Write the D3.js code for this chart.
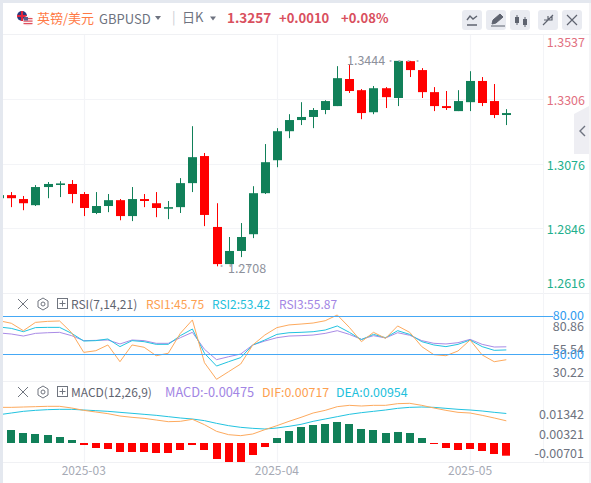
<!DOCTYPE html>
<html><head><meta charset="utf-8">
<script src="https://cdn.jsdelivr.net/npm/d3@7/dist/d3.min.js"></script>
<style>html,body{margin:0;padding:0;background:#fff;overflow:hidden}svg{display:block}text{font-family:"Noto Sans CJK SC","Open Sans",sans-serif}</style>
</head><body><div id="c"></div>
<script>
// index -1 is the candle clipped at the left edge
const startIndex = -1;
const opens  = [1.2952,1.2963,1.2949,1.2927,1.2992,1.3003,1.3003,1.2967,1.2899,1.2924,1.2945,1.2888,1.2949,1.2934,1.2917,1.2920,1.3006,1.3103,1.2849,1.2716,1.2763,1.2823,1.2970,1.3088,1.3192,1.3232,1.3243,1.3268,1.3282,1.3379,1.3339,1.3260,1.3346,1.3311,1.3443,1.3411,1.3332,1.3282,1.3264,1.3296,1.3372,1.3300,1.3250];
const highs  = [1.2963,1.2974,1.2960,1.2999,1.3010,1.3013,1.3017,1.2974,1.2974,1.2967,1.2949,1.2992,1.2967,1.2974,1.2942,1.3024,1.3210,1.3114,1.2934,1.2813,1.2863,1.2995,1.3146,1.3203,1.3253,1.3296,1.3275,1.3303,1.3425,1.3429,1.3343,1.3354,1.3350,1.3444,1.3444,1.3418,1.3350,1.3336,1.3339,1.3407,1.3386,1.3361,1.3271];
const lows   = [1.2949,1.2920,1.2909,1.2924,1.2952,1.2956,1.2934,1.2888,1.2895,1.2902,1.2873,1.2870,1.2920,1.2884,1.2877,1.2899,1.2974,1.2852,1.2708,1.2716,1.2741,1.2809,1.2967,1.3063,1.3167,1.3214,1.3203,1.3253,1.3282,1.3329,1.3235,1.3253,1.3275,1.3282,1.3386,1.3311,1.3264,1.3268,1.3264,1.3264,1.3282,1.3239,1.3214];
const closes = [1.2963,1.2952,1.2934,1.2992,1.3003,1.3005,1.2967,1.2917,1.2924,1.2945,1.2888,1.2949,1.2942,1.2917,1.2920,1.3006,1.3099,1.2892,1.2716,1.2763,1.2813,1.2970,1.3081,1.3192,1.3232,1.3243,1.3268,1.3300,1.3382,1.3336,1.3257,1.3346,1.3314,1.3444,1.3411,1.3332,1.3282,1.3275,1.3300,1.3372,1.3293,1.3250,1.3257];
const rsi1 = [76.3,74.3,68.5,75.0,75.8,76.1,66.9,51.5,52.8,57.3,44.2,57.3,55.5,48.9,50.8,66.4,76.9,43.4,30.4,36.4,42.4,57.3,65.1,70.9,73.0,73.7,74.5,76.3,80.8,71.1,59.9,67.2,62.5,72.2,67.2,56.0,49.7,48.9,52.6,61.2,49.5,44.2,45.75];
const rsi2 = [71.4,70.3,67.7,70.9,71.1,71.1,66.4,60.4,60.7,62.0,56.0,60.7,59.9,57.8,57.8,64.6,69.8,50.8,40.8,44.2,47.4,57.3,61.2,65.6,66.9,67.2,67.7,69.0,72.2,67.2,61.5,65.6,63.0,68.5,65.6,59.9,57.3,56.0,57.8,61.2,56.0,53.1,53.42];
const rsi3 = [66.7,65.9,64.3,66.4,66.9,67.2,64.6,60.7,60.9,61.2,58.1,61.2,60.7,58.6,58.6,63.0,67.2,53.9,45.8,48.1,50.2,57.3,60.4,63.0,64.3,64.6,65.1,66.4,68.5,65.6,61.7,64.6,62.8,66.9,64.9,60.7,58.6,58.1,59.1,61.7,57.8,55.7,55.87];
const macdBars = [null,.00486,.00374,.00337,.00299,.00224,.00112,-.00075,-.00187,-.00224,-.00337,-.00337,-.00337,-.00374,-.00374,-.00262,-.00075,-.00262,-.00599,-.00711,-.00711,-.00449,-.00150,.00187,.00449,.00599,.00673,.00711,.00786,.00711,.00524,.00486,.00374,.00412,.00374,.00187,-.00037,-.00187,-.00262,-.00224,-.00299,-.00412,-.00475];
const dif = [.01152,.01152,.01163,.01174,.01185,.01185,.01131,.01055,.01002,.00948,.00872,.00829,.00797,.00743,.00689,.00700,.00765,.00592,.00377,.00269,.00237,.00291,.00431,.00560,.00700,.00829,.00969,.01055,.01174,.01217,.01195,.01217,.01217,.01271,.01282,.01217,.01131,.01055,.00991,.00969,.00894,.00808,.00717];
const dea = [.00915,.00969,.01023,.01055,.01077,.01088,.01088,.01066,.01045,.01023,.00991,.00959,.00926,.00894,.00851,.00808,.00775,.00722,.00635,.00560,.00506,.00474,.00452,.00485,.00539,.00603,.00700,.00775,.00851,.00926,.00980,.01023,.01066,.01120,.01152,.01163,.01152,.01120,.01088,.01066,.01034,.00991,.00954];
const priceTicks = [1.3537,1.3306,1.3076,1.2846,1.2616];
const rsiLevels = [80,50];
const rsiLabels = ["80.86","55.54","30.22"];
const macdLabels = ["0.01342","0.00321","-0.00701"];
const monthTicks = [{i:6,label:"2025-03"},{i:22,label:"2025-04"},{i:38,label:"2025-05"}];

const W=591,H=483;
const svg=d3.select("#c").append("svg").attr("width",W).attr("height",H);
const GREEN="#118059",RED="#ff0000",GRID="#f3f4f7";
const x=d3.scaleLinear().domain([0,41]).range([11.3,506.3]);
const yP=d3.scaleLinear().domain([1.2616,1.3537]).range([292,34.9]);
const yR=d3.scaleLinear().domain([50,80]).range([354.3,316]);
const yM=d3.scaleLinear().domain([0,0.01]).range([443,412.05]);
const yB=d3.scaleLinear().domain([0,0.01]).range([443,416.27]);
const idx=d=>d+startIndex;

// frame
svg.append("rect").attr("width",W).attr("height",3).attr("fill","#e4e8ef");
svg.append("rect").attr("width",3).attr("height",H).attr("fill","#e4e8ef");
svg.append("rect").attr("x",589).attr("y",3).attr("width",2).attr("height",H).attr("fill","#f4f4f6");
// separators
const sep=[34.5,293.5,381.5,462.5];
svg.selectAll(".sep").data(sep).join("line").attr("x1",3).attr("x2",W).attr("y1",d=>d).attr("y2",d=>d).attr("stroke","#f0f1f4");
svg.selectAll(".vg").data(monthTicks).join("line").attr("x1",d=>Math.round(x(d.i))+.5).attr("x2",d=>Math.round(x(d.i))+.5).attr("y1",35).attr("y2",462).attr("stroke",GRID).attr("stroke-width",1.2);
svg.selectAll(".hg").data(priceTicks.slice(1,4)).join("line").attr("x1",3).attr("x2",543).attr("y1",d=>Math.round(yP(d))+.5).attr("y2",d=>Math.round(yP(d))+.5).attr("stroke",GRID).attr("stroke-width",1.2);
svg.append("line").attr("x1",543.5).attr("x2",543.5).attr("y1",35).attr("y2",293).attr("stroke",GRID);
svg.append("line").attr("x1",543.5).attr("x2",543.5).attr("y1",293).attr("y2",462).attr("stroke",GRID);

const clip=svg.append("clipPath").attr("id","cp").append("rect").attr("x",3).attr("y",35).attr("width",540).attr("height",430);
const g=svg.append("g").attr("clip-path","url(#cp)");

// candles
const cs=d3.range(opens.length);
const col=i=>closes[i]>=opens[i]?GREEN:RED;
g.selectAll(".w").data(cs).join("line").attr("x1",i=>Math.round(x(idx(i)))+.5).attr("x2",i=>Math.round(x(idx(i)))+.5)
 .attr("y1",i=>yP(highs[i])).attr("y2",i=>yP(lows[i])).attr("stroke",col).attr("stroke-width",1);
g.selectAll(".b").data(cs).join("rect").attr("x",i=>Math.round(x(idx(i)))-4).attr("width",9)
 .attr("y",i=>Math.min(yP(opens[i]),yP(closes[i])))
 .attr("height",i=>Math.max(1.6,Math.abs(yP(opens[i])-yP(closes[i])))).attr("fill",col);

// high / low annotations
svg.append("text").attr("x",347).attr("y",yP(1.3444)+4.5).attr("font-size",12.5).attr("fill","#8d919c").text("1.3444");
svg.append("text").attr("x",386).attr("y",yP(1.3444)+3).attr("font-size",9).attr("fill","#aeb1ba").text("····");
svg.append("text").attr("x",228).attr("y",yP(1.2708)+7).attr("font-size",12.5).attr("fill","#8d919c").text("1.2708");
svg.append("text").attr("x",217).attr("y",yP(1.2708)+3).attr("font-size",9).attr("fill","#aeb1ba").text("····");

// price labels
const nudge={1.3537:8,1.3306:1.4,1.3076:2.4,1.2846:2,1.2616:-8.4};
svg.selectAll(".pl").data(priceTicks).join("text").attr("x",585).attr("text-anchor","end")
 .attr("y",d=>yP(d)+nudge[d]+4.3).attr("font-size",12.5)
 .attr("fill",d=>d>=1.33?"#e2707f":"#1fb08d").text(d=>d.toFixed(4));

// RSI
const rsiLine=d3.line().x((d,i)=>x(idx(i))).y(d=>yR(d));
[[rsi3,"#a98be6"],[rsi2,"#22c3e0"],[rsi1,"#fdaa5e"]].forEach(([s,c])=>g.append("path").attr("d",rsiLine(s)).attr("fill","none").attr("stroke",c).attr("stroke-width",1));
svg.selectAll(".rl").data(rsiLevels).join("line").attr("x1",3).attr("x2",553).attr("y1",d=>Math.round(yR(d))+.5).attr("y2",d=>Math.round(yR(d))+.5).attr("stroke","#45a8f5").attr("stroke-width",1);
const yRL=d3.scalePoint().domain(rsiLabels).range([326.7,372.7]);
svg.selectAll(".rt").data(rsiLabels).join("text").attr("x",584).attr("text-anchor","end").attr("y",d=>yRL(d)+4.3).attr("font-size",12.5).attr("fill","#6e7380").text(d=>d);
svg.selectAll(".rb").data(rsiLevels).join("text").attr("x",584).attr("text-anchor","end").attr("y",d=>yR(d)+4.3).attr("font-size",12.5).attr("fill","#2f9bf0").text(d=>d.toFixed(2));

// MACD
g.selectAll(".mb").data(macdBars.map((v,i)=>({v,i})).filter(d=>d.v!==null)).join("rect")
 .attr("x",d=>Math.round(x(idx(d.i)))-4).attr("width",8)
 .attr("y",d=>Math.min(yB(d.v),yB(0))).attr("height",d=>Math.abs(yB(d.v)-yB(0)))
 .attr("fill",d=>d.v>=0?GREEN:RED);
const mLine=d3.line().x((d,i)=>x(idx(i))).y(d=>yM(d));
g.append("path").attr("d",mLine(dea)).attr("fill","none").attr("stroke","#22c3e0").attr("stroke-width",1);
g.append("path").attr("d",mLine(dif)).attr("fill","none").attr("stroke","#fdaa5e").attr("stroke-width",1);
const yML=d3.scalePoint().domain(macdLabels).range([414.7,454]);
svg.selectAll(".mt").data(macdLabels).join("text").attr("x",584).attr("text-anchor","end").attr("y",d=>yML(d)+4.3).attr("font-size",12.5).attr("fill","#6e7380").text(d=>d);

// month labels
svg.selectAll(".ml").data(monthTicks).join("text").attr("x",d=>x(d.i)).attr("text-anchor","middle").attr("y",475).attr("font-size",12).attr("fill","#a6aab5").text(d=>d.label);

// header
function t(x,y,s,fs,c,w){return svg.append("text").attr("x",x).attr("y",y).attr("font-size",fs).attr("fill",c).attr("font-weight",w||400).text(s);}
// flags
const fl=svg.append("g");
fl.append("circle").attr("cx",22).attr("cy",16).attr("r",5).attr("fill","#2a3a7c");
fl.append("rect").attr("x",17).attr("y",15).attr("width",10).attr("height",2).attr("fill","#e0263c");
fl.append("rect").attr("x",21).attr("y",11).attr("width",2).attr("height",10).attr("fill","#e0263c");
fl.append("circle").attr("cx",28).attr("cy",21).attr("r",5).attr("fill","#fbeff0");
[18,20.5,23].forEach(y=>fl.append("rect").attr("x",23.5).attr("y",y).attr("width",9).attr("height",1.2).attr("fill","#e0505f"));
fl.append("rect").attr("x",24).attr("y",17).attr("width",4).attr("height",3.5).attr("fill","#5a5f8c");
t(37,23,"英镑/美元",13,"#ff7a45");
t(99,24,"GBPUSD",13,"#6e7380");
t(172,22,"|",13,"#c9ccd4");
t(182,22,"日K",13,"#6e7380");
const tri=(cx,cy)=>svg.append("path").attr("d",`M${cx-3},${cy-2}h6l-3,4z`).attr("fill","#6e7380");
tri(158,18);tri(213,18.5);
t(227,23,"1.3257",13.5,"#d9505e",700);
t(279,23,"+0.0010",13,"#d9505e",700);
t(341,23,"+0.08%",13,"#d9505e",700);
// buttons
const btn=[462,486,510,538,562];
svg.selectAll(".btn").data(btn).join("rect").attr("x",d=>d).attr("y",10).attr("width",20).attr("height",20).attr("rx",3).attr("fill","#e9ebf1");
const ic="#5f6470";
svg.append("path").attr("d","M467,25h10M467,20l3,-4l3,3l4,-3").attr("fill","none").attr("stroke",ic).attr("stroke-width",1.4);
svg.append("path").attr("d","M492,24l1,-4l7,-6l3,3l-7,6zM491,26h14").attr("fill",ic).attr("stroke",ic);
svg.append("path").attr("d","M517,15v10M525,17v10").attr("stroke",ic);
svg.append("rect").attr("x",515).attr("y",17).attr("width",4).attr("height",6).attr("fill",ic);
svg.append("rect").attr("x",523).attr("y",19).attr("width",4).attr("height",6).attr("fill",ic);
svg.append("path").attr("d","M543,25l5,-5M553,15l-5,5M548,16v4h-4M548,20h4v-4").attr("fill","none").attr("stroke",ic).attr("stroke-width",1.2);
svg.append("path").attr("d","M567,15l10,10M577,15l-10,10").attr("stroke",ic).attr("stroke-width",1.2);
// right tab
svg.append("path").attr("d","M574,114l15,-8v48h-15z").attr("fill","#eeeef3");
svg.append("path").attr("d","M585,126l-5,5l5,5").attr("fill","none").attr("stroke","#6e7380").attr("stroke-width",1.4);

// pane heads
function head(y,label,items){
 svg.append("path").attr("d",`M18,${y-5}l10,10M28,${y-5}l-10,10`).attr("stroke","#70757f").attr("stroke-width",1);
 svg.append("path").attr("d",`M43,${y-6}l5,3v6l-5,3l-5,-3v-6z`).attr("fill","none").attr("stroke","#70757f");
 svg.append("circle").attr("cx",43).attr("cy",y).attr("r",2).attr("fill","none").attr("stroke","#70757f");
 svg.append("rect").attr("x",57.5).attr("y",y-5.5).attr("width",10).attr("height",10).attr("fill","none").attr("stroke","#70757f");
 svg.append("path").attr("d",`M59.5,${y-.5}h6M62.5,${y-3.5}v6`).attr("stroke","#70757f");
 t(71,y+4.5,label,12,"#5f6470");
 items.forEach(([px,s,c,fs])=>t(px,y+4.5,s,fs||12,c));
}
head(304,"RSI(7,14,21)",[[146,"RSI1:45.75","#fda04f"],[212,"RSI2:53.42","#22bfdc"],[279,"RSI3:55.87","#a285e4"]]);
head(392,"MACD(12,26,9)",[[165,"MACD:-0.00475","#a285e4",12.8],[262,"DIF:0.00717","#fda04f",12.4],[336,"DEA:0.00954","#22bfdc",12.4]]);
</script></body></html>
